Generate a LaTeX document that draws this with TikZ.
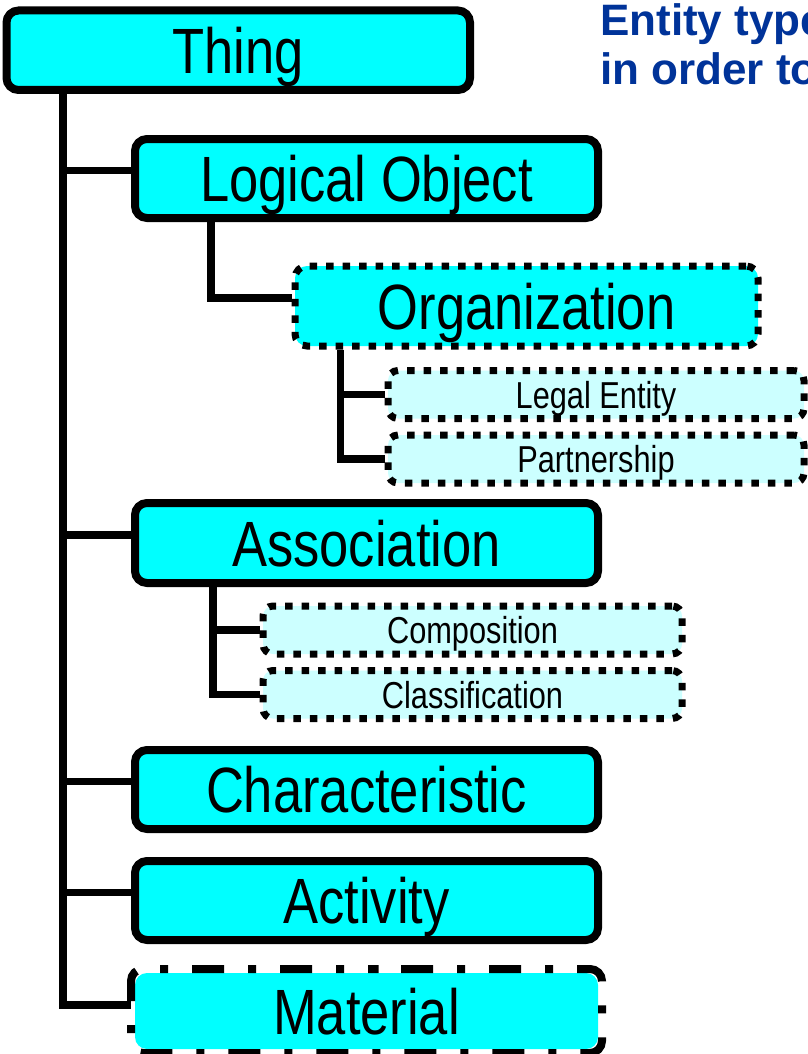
\documentclass[tikz,border=0pt]{standalone}
\usepackage{fontspec}
\setmainfont{Liberation Sans}
\newfontfamily\boxfont[FakeStretch=0.82]{Liberation Sans}
\usetikzlibrary{calc}

\definecolor{boxcyan}{RGB}{0,255,255}
\definecolor{palecyan}{RGB}{204,255,255}
\definecolor{titleblue}{RGB}{0,51,153}

\pgfdeclarelayer{bg}
\pgfsetlayers{bg,main}

\newcommand{\bigtext}{\boxfont\fontsize{64}{64}\selectfont}
\newcommand{\smalltext}{\boxfont\fontsize{37.5}{38}\selectfont}

\tikzset{
  conn/.style={line width=7.5pt, line join=miter},
  classbox/.style={draw, line width=8pt, fill=boxcyan, rounded corners=12pt,
    inner sep=0pt, minimum width=463pt, minimum height=79pt,
    font=\bigtext, text height=46pt, text depth=0pt},
  dotbig/.style={classbox, line width=7pt, dash pattern=on 7.5pt off 9pt},
  dotsmall/.style={draw, line width=7pt, dash pattern=on 7.5pt off 9pt,
    fill=palecyan, rounded corners=10pt, inner sep=0pt, minimum height=48pt,
    font=\smalltext, text height=27pt, text depth=0pt},
  matbox/.style={classbox, draw=none},
  matline/.style={line width=8pt, rounded corners=12pt,
    dash pattern=on 32pt off 24pt on 8pt off 24pt, dash phase=65.5pt},
  titletext/.style={anchor=base west, inner sep=0pt, text=titleblue,
    font=\bfseries\fontsize{44}{50}\selectfont}
}

\begin{document}
\begin{tikzpicture}[x=1pt, y=-1pt]
\useasboundingbox (0,0) rectangle (807,1054);

% heading
\node[titletext] (title1) at (600,36) {Entity type};
\node[titletext] (title2) at (600,85) {in order to};

% class boxes
\node[classbox, minimum width=463.5pt, minimum height=79.5pt] (thing) at (238.25,50.25) {Thing};
\node[classbox] (logical) at (366.5,178.5) {Logical Object};
\node[dotbig, minimum height=80pt] (organization) at (526.5,306) {Organization};
\node[dotsmall, minimum width=416pt] (legal) at (596,394.5) {Legal Entity};
\node[dotsmall, minimum width=416pt] (partnership) at (596,459) {Partnership};
\node[classbox, minimum height=80pt] (association) at (366.5,543) {Association};
\node[dotsmall, minimum width=419pt] (composition) at (472.5,630) {Composition};
\node[dotsmall, minimum width=419pt] (classification) at (472.5,694.5) {Classification};
\node[classbox] (characteristic) at (366.5,789.5) {Characteristic};
\node[classbox] (activity) at (366.5,900.5) {Activity};
\node[matbox, minimum height=76pt] (material) at (366.5,1011) {Material};
\draw[matline] (material.north) -- (material.north east) -- (material.south east)
  -- (material.south west) -- (material.north west) -- cycle;

% connectors
\coordinate (trunk) at ([xshift=60.5pt]thing.south west);
\coordinate (lo-in) at ([yshift=8pt]logical.west);
\coordinate (as-in) at ([yshift=8pt]association.west);
\coordinate (ch-in) at ([yshift=8pt]characteristic.west);
\coordinate (ac-in) at ([yshift=8pt]activity.west);
\coordinate (ma-in) at ([yshift=6pt]material.west);
\coordinate (or-in) at ([yshift=8pt]organization.west);
\coordinate (lo-stem) at ([xshift=80pt]logical.south west);
\coordinate (or-stem) at ([xshift=49pt]organization.south west);
\coordinate (as-stem) at ([xshift=82pt]association.south west);

\begin{pgfonlayer}{bg}
  \draw[conn] (trunk) |- (ma-in);
  \draw[conn] (lo-in) -- (lo-in -| trunk);
  \draw[conn] (as-in) -- (as-in -| trunk);
  \draw[conn] (ch-in) -- (ch-in -| trunk);
  \draw[conn] (ac-in) -- (ac-in -| trunk);
  \draw[conn] (lo-stem) |- (or-in);
  \draw[conn] (or-stem) |- (partnership.west);
  \draw[conn] (legal.west) -- (legal.west -| or-stem);
  \draw[conn] (as-stem) |- (classification.west);
  \draw[conn] (composition.west) -- (composition.west -| as-stem);
\end{pgfonlayer}
\end{tikzpicture}
\end{document}
